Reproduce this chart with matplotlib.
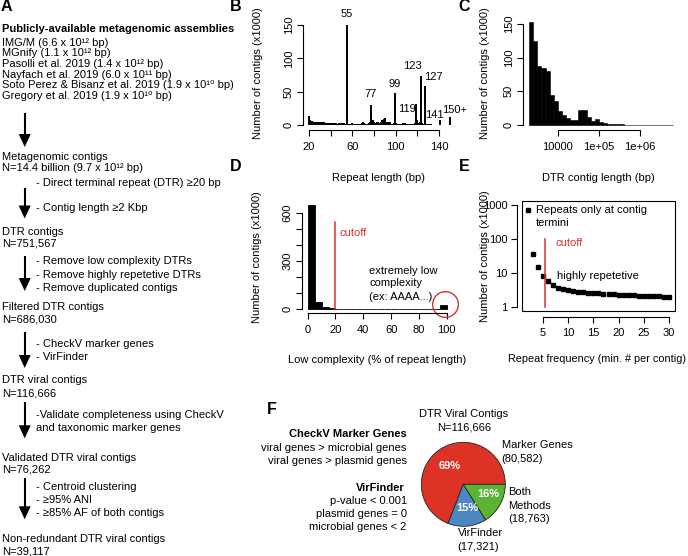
import matplotlib
matplotlib.use("Agg")
import matplotlib.pyplot as plt
from matplotlib.patches import Polygon, Rectangle

plt.rcParams['font.family'] = ['Liberation Sans', 'DejaVu Sans']
plt.rcParams['axes.linewidth'] = 0.8

# ---------------- Panel A data ----------------
assembly_sources = ["IMG/M", "MGnify", "Pasolli et al. 2019", "Nayfach et al. 2019",
                    "Soto Perez & Bisanz et al. 2019", "Gregory et al. 2019"]
assembly_sizes = ["6.6 x 10\u00b9\u00b2", "1.1 x 10\u00b9\u00b2", "1.4 x 10\u00b9\u00b2",
                  "6.0 x 10\u00b9\u00b9", "1.9 x 10\u00b9\u2070", "1.9 x 10\u00b9\u2070"]
stage_names = ["Metagenomic contigs", "DTR contigs", "Filtered DTR contigs",
               "DTR viral contigs", "Validated DTR viral contigs",
               "Non-redundant DTR viral contigs"]
stage_counts = ["N=14.4 billion (9.7 x 10\u00b9\u00b2 bp)", "N=751,567", "N=686,030",
                "N=116,666", "N=76,262", "N=39,117"]
step_notes = [
    ["- Direct terminal repeat (DTR) \u226520 bp", "- Contig length \u22652 Kbp"],
    ["- Remove low complexity DTRs", "- Remove highly repetetive DTRs",
     "- Remove duplicated contigs"],
    ["- CheckV marker genes", "- VirFinder"],
    ["-Validate completeness using CheckV", "and taxonomic marker genes"],
    ["- Centroid clustering", "- \u226595% ANI", "- \u226585% AF of both contigs"],
]

# ---------------- Panel B data (x1000 contigs per repeat length) ----------------
repeat_length = list(range(20, 151))
repeat_counts = [
    14, 7, 6, 6, 5, 5, 4, 5, 4, 4,          # 20-29
    5, 4, 5, 4, 4, 3, 3, 3, 3, 3,           # 30-39
    3, 3, 3, 3, 3, 3, 2, 2, 3, 3,           # 40-49
    3, 3, 3, 2, 2, 150, 2, 2, 2, 2,         # 50-59
    3, 2, 2, 2, 2, 2, 2, 2, 2, 3,           # 60-69
    4, 3, 2, 2, 2, 3, 4, 30, 6, 7,          # 70-79
    4, 3, 3, 5, 4, 3, 5, 7, 8, 9,           # 80-89
    10, 5, 4, 3, 5, 4, 2, 2, 3, 48,         # 90-99
    3, 2, 2, 2, 2, 2, 1, 3, 2, 3,           # 100-109
    2, 1, 1, 1, 1, 1, 1, 2, 3, 31,          # 110-119
    8, 3, 4, 74, 3, 2, 2, 59, 1, 1,         # 120-129
    1, 1, 0.8, 0.8, 0.6, 0.6, 0.5, 0.5, 0.5, 0.5,  # 130-139
    0.5, 8, 0.4, 0.4, 0.3, 0.3, 0.3, 0.3, 0.3, 0.3,  # 140-149
    12,                                      # 150+
]
peak_labels = ["55", "77", "99", "119", "123", "127", "141", "150+"]
peak_label_x = [55, 77, 99, 110, 115.5, 134.5, 135.5, 154.5]
peak_label_y = [167, 46, 61, 24, 89, 72, 15, 22.5]

# ---------------- Panel C data ----------------
length_bin_edges_log10 = [3.3, 3.4, 3.5, 3.6, 3.7, 3.8, 3.9, 4.0, 4.1, 4.2, 4.3, 4.4,
                          4.5, 4.6, 4.7, 4.8, 4.9, 5.0, 5.1, 5.2, 5.3, 5.4, 5.5, 5.6,
                          5.7, 5.8, 5.9, 6.0, 6.1, 6.2, 6.3, 6.4, 6.5, 6.6, 6.7, 6.8]
length_counts = [153, 125, 88, 84, 81, 45, 35, 21, 15, 11, 8, 8,
                 22, 22, 12, 6, 9, 4, 3, 2, 1.5, 1.2, 0.8, 0.6,
                 0.5, 0.4, 0.3, 0.3, 0.2, 0.2, 0.2, 0.2, 0.2, 0.2, 0.2]

# ---------------- Panel D data ----------------
complexity_bin_left = [0, 5, 10, 15, 20, 25, 30, 35, 40, 45, 50, 55, 60, 65, 70, 75,
                       80, 85, 90, 95]
complexity_counts = [650, 42, 15, 8, 3, 2, 2, 1.5, 1.5, 1.5, 1.5, 1.5, 1.5, 1.5, 1.5,
                     1.5, 1.5, 1.5, 1.5, 25]
complexity_cutoff = 20

# ---------------- Panel E data ----------------
repeat_freq = [2, 3, 4, 5, 6, 7, 8, 9, 10, 11, 12, 13, 14, 15, 16, 17, 18, 19, 20,
               21, 22, 23, 24, 25, 26, 27, 28, 29, 30]
freq_counts = [751.567, 36, 15.5, 8.3, 5.9, 4.4, 3.7, 3.4, 3.2, 2.95, 2.85, 2.75, 2.65,
               2.6, 2.55, 2.5, 2.45, 2.4, 2.35, 2.3, 2.28, 2.25, 2.22, 2.2, 2.17,
               2.14, 2.1, 2.05, 1.97]
freq_cutoff = 5.4

# ---------------- Panel F data ----------------
pie_labels = ["Marker Genes", "VirFinder", "Both\nMethods"]
pie_counts = [80582, 17321, 18763]
pie_pct = ["69%", "15%", "16%"]
pie_colors = ["#DC3326", "#4D87C3", "#5BB332"]

W, H = 688, 556
fig = plt.figure(figsize=(W / 100, H / 100), dpi=100)
FS = 8.0
RED = "#D4322C"


def add_ax(l, t, r, b):
    return fig.add_axes([l / W, 1 - b / H, (r - l) / W, (b - t) / H])


def r_style(ax, xt, xl, yt, yl, ypad=3.0, xpad=4.5):
    for s in ['top', 'right']:
        ax.spines[s].set_visible(False)
    ax.spines['left'].set_bounds(yt[0], yt[-1])
    ax.spines['bottom'].set_bounds(xt[0], xt[-1])
    ax.set_xticks(xt)
    ax.set_xticklabels(xl)
    ax.set_yticks(yt)
    ax.set_yticklabels(yl, rotation=90, va='center')
    ax.minorticks_off()
    ax.tick_params(axis='both', direction='out', length=4, width=0.8, labelsize=FS)
    ax.tick_params(axis='x', pad=xpad)
    ax.tick_params(axis='y', pad=ypad)
    ax.patch.set_visible(False)


# ---------------- Panel B ----------------
axB = add_ax(303.4, 21, 455.5, 130)
axB.vlines(repeat_length, 0, repeat_counts, color='black', lw=1.4)
axB.set_xlim(14.8, 155.2)
axB.set_ylim(-7.5, 156)
r_style(axB, [20, 40, 60, 80, 100, 120, 140], ['20', '', '60', '', '100', '', '140'],
        [0, 50, 100, 150], ['0', '50', '100', '150'])
for s, x, y in zip(peak_labels, peak_label_x, peak_label_y):
    axB.text(x, y, s, ha='center', va='center', fontsize=FS, clip_on=False)

# ---------------- Panel C ----------------
axC = add_ax(523.4, 18, 678.5, 130)
lefts = [10 ** e for e in length_bin_edges_log10[:-1]]
rights = [10 ** e for e in length_bin_edges_log10[1:]]
axC.bar(lefts, length_counts, width=[r - l for l, r in zip(lefts, rights)], align='edge',
        color='black', edgecolor='black', lw=0.4)
axC.set_xscale('log')
axC.set_xlim(10 ** 3.16, 10 ** 6.94)
axC.set_ylim(-7.4, 159)
r_style(axC, [1e4, 1e5, 1e6], ['10000', '1e+05', '1e+06'],
        [0, 50, 100, 150], ['0', '50', '100', '150'])

# ---------------- Panel D ----------------
axD = add_ax(302.1, 200.4, 452.3, 313.3)
axD.bar(complexity_bin_left, complexity_counts, width=5, align='edge', color='black',
        edgecolor='black', lw=0.6)
axD.set_xlim(-4, 104)
axD.set_ylim(-27, 679)
axD.plot([complexity_cutoff, complexity_cutoff], [0, 545], color=RED, lw=1.1)
axD.plot([98.5], [30], 'o', ms=18.5, mfc='none', mec=RED, mew=1.0, clip_on=False)
r_style(axD, [0, 20, 40, 60, 80, 100], ['0', '20', '40', '60', '80', '100'],
        [0, 100, 200, 300, 400, 500, 600], ['0', '', '', '300', '', '', '600'])

# ---------------- Panel E ----------------
axE = add_ax(522.4, 201.2, 674.5, 311.4)
axE.plot(repeat_freq, freq_counts, 's', ms=3.0, color='black')
axE.plot([freq_cutoff, freq_cutoff], [1, 100], color=RED, lw=1.1)
axE.set_yscale('log')
axE.set_xlim(0.88, 31.12)
axE.set_ylim(10 ** -0.12, 10 ** 3.12)
r_style(axE, [5, 10, 15, 20, 25, 30], ['5', '10', '15', '20', '25', '30'],
        [1, 10, 100, 1000], ['1', '10', '100', '1000'])
axE.spines['left'].set_position(('outward', 3.7))
axE.spines['bottom'].set_position(('outward', 3.7))
axE.add_patch(Rectangle((0, 0), 1, 1, transform=axE.transAxes, fill=False, lw=0.8,
                        clip_on=False))

# ---------------- Panel F pie ----------------
axF = add_ax(421.3, 442.3, 505.3, 526.3)
axF.pie(pie_counts, colors=pie_colors, startangle=0, counterclock=True,
        wedgeprops=dict(edgecolor='#222222', linewidth=0.6))
axF.set_xlim(-1.0, 1.0)
axF.set_ylim(-1.0, 1.0)

# ---------------- overlay (text & arrows, pixel coordinates) ----------------
ov = fig.add_axes([0, 0, 1, 1])
ov.set_xlim(0, W)
ov.set_ylim(H, 0)
ov.axis('off')
ov.patch.set_visible(False)


def t(x, y, s, **kw):
    kw.setdefault('fontsize', FS)
    kw.setdefault('va', 'center')
    ov.text(x, y, s, **kw)


# panel letters
for lab, x, y in [("A", 0.5, 6.5), ("B", 229.5, 6.5), ("C", 458.5, 6.5),
                  ("D", 229.5, 166.5), ("E", 458.5, 166.5), ("F", 267, 410)]:
    t(x, y, lab, fontsize=11.5, fontweight='bold')

# Panel A
t(2.5, 29.3, "Publicly-available metagenomic assemblies", fontweight='bold')
src_y = [42.7, 53.4, 64.1, 74.8, 85.5, 96.2]
for s, sz, y in zip(assembly_sources, assembly_sizes, src_y):
    t(2.5, y, f"{s} ({sz} bp)")

stage_y = [(156.7, 168.3), (231.7, 243.3), (307.3, 320), (380, 393.3),
           (458.3, 470), (539.3, 551.7)]
for name, cnt, (y1, y2) in zip(stage_names, stage_counts, stage_y):
    t(2, y1, name)
    t(2, y2, cnt)

arrow_spans = [(113, 147), (188, 218.5), (256, 291), (332, 368), (401.7, 438.3),
               (478.3, 519.3)]
ax_x = 24.7
for y1, y2 in arrow_spans:
    hl, hw = 13, 12
    ov.plot([ax_x, ax_x], [y1, y2 - hl + 1], color='black', lw=1.5,
            solid_capstyle='butt')
    ov.add_patch(Polygon([(ax_x - hw / 2, y2 - hl), (ax_x + hw / 2, y2 - hl), (ax_x, y2)],
                         closed=True, color='black', lw=0))

note_y = [[182.7, 208.3], [261, 274.5, 287.7], [344, 356.7], [415, 428.3],
          [486.7, 500, 513.3]]
for notes, ys in zip(step_notes, note_y):
    for s, y in zip(notes, ys):
        t(36, y, s)

# axis labels
t(378.5, 178, "Repeat length (bp)", ha='center')
t(598, 178, "DTR contig length (bp)", ha='center')
t(377, 360, "Low complexity (% of repeat length)", ha='center')
t(597, 358.5, "Repeat frequency (min. # per contig)", ha='center', fontsize=7.8)
for x, y in [(258, 73), (485, 73), (257, 257), (485, 256)]:
    t(x, y, "Number of contigs (x1000)", ha='center', rotation=90)

# Panel D annotations
t(340, 233.3, "cutoff", color=RED)
t(369, 271, "extremely low")
t(369, 283.5, "complexity")
t(369, 296.5, "(ex: AAAA...)")

# Panel E annotations
t(536, 210, "Repeats only at contig")
t(536, 223.3, "termini")
t(556, 243.3, "cutoff", color=RED)
t(556.7, 276, "highly repetetive")

# Panel F text
fx = 406.7
t(fx, 434.3, "CheckV Marker Genes", ha='right', fontweight='bold')
t(fx, 447.7, "viral genes > microbial genes", ha='right')
t(fx, 461, "viral genes > plasmid genes", ha='right')
t(fx - 2, 488.3, "VirFinder", ha='right', fontweight='bold')
t(fx, 501, "p-value < 0.001", ha='right')
t(fx, 514.3, "plasmid genes = 0", ha='right')
t(fx, 527.3, "microbial genes < 2", ha='right')

t(464, 414, "DTR Viral Contigs", ha='center')
t(464, 427, "N=116,666", ha='center')
t(501.7, 445, pie_labels[0])
t(501.7, 459.5, f"({pie_counts[0]:,})")
t(457.7, 533.3, pie_labels[1])
t(457.7, 546.7, f"({pie_counts[1]:,})")
t(508.3, 492.3, "Both")
t(508.3, 505.8, "Methods")
t(508.3, 519.3, f"({pie_counts[2]:,})")
for s, x, y in zip(pie_pct, [450, 467.3, 488.3], [466, 507.7, 494.3]):
    t(x, y, s, ha='center', color='white', fontweight='bold')

fig.savefig("out.png", dpi=100)
